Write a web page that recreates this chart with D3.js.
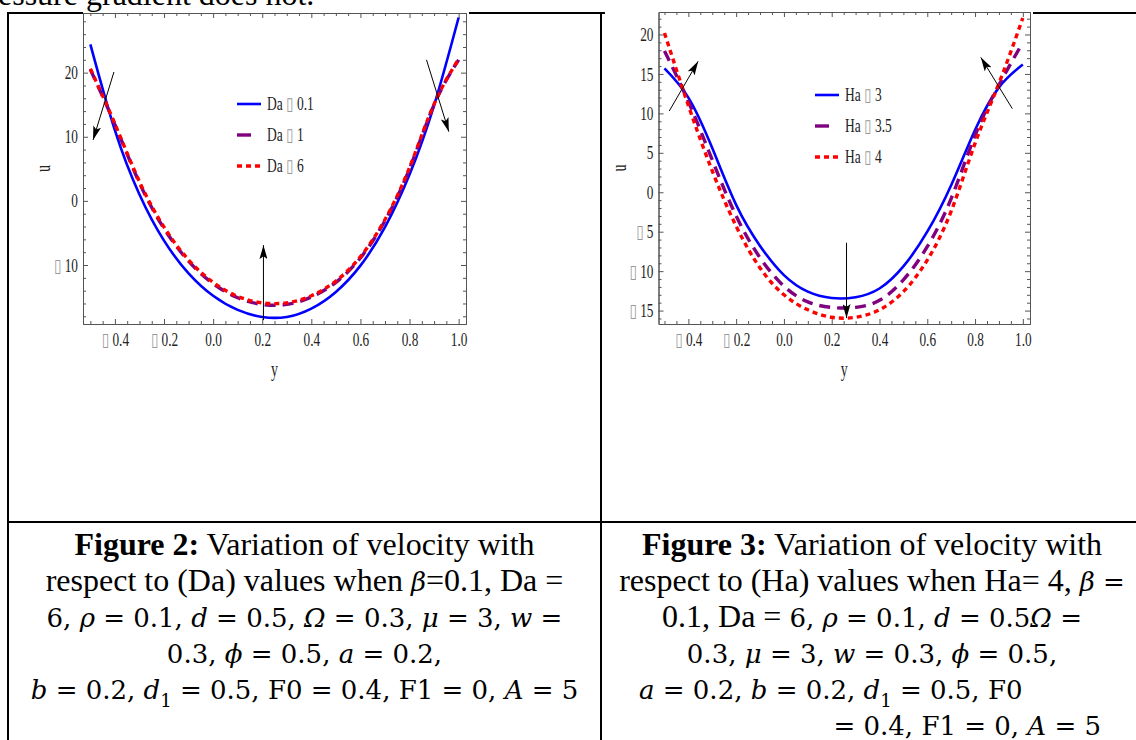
<!DOCTYPE html>
<html lang="en">
<head>
<meta charset="UTF-8">
<title>Velocity profiles</title>
<script src="https://d3js.org/d3.v7.min.js"></script>
<style>
    body { margin: 0; background: #fff; }
    svg { display: block; }
    .frame .domain, .frame line { stroke: #555; stroke-width: 1; }
    .frame text { font-family: "Liberation Serif", serif; font-size: 19px; fill: #222; }
    .box { font-family: "DejaVu Sans", sans-serif; fill: #999; }
    .txt { font-family: "Liberation Serif", serif; font-size: 32px; fill: #000; }
    .b { font-weight: bold; }
    .m { font-family: "DejaVu Serif", serif; font-size: 26px; }
    .i { font-family: "DejaVu Serif", serif; font-size: 26px; font-style: italic; }
    .sub { font-family: "DejaVu Serif", serif; font-size: 18px; }
</style>
</head>
<body>
<svg id="page" width="1136" height="740"></svg>
<script>
    // ---- data ----
    const yPos = [-0.5, -0.4, -0.3, -0.2, -0.1, 0, 0.1, 0.2, 0.3, 0.4, 0.5, 0.6, 0.7, 0.8, 0.9, 1.0];

    // figure 2 (Da)
    const uDa01 = [24.4, 11.0, 1.0, -6.2, -11.3, -14.8, -17.0, -18.1, -18.1, -16.8, -14.2, -10.1, -4.1, 4.1, 14.9, 28.6];
    const uDa1  = [20.5, 11.9, 2.8, -4.3, -9.4, -12.9, -15.1, -16.15, -16.15, -15.0, -12.7, -8.9, -3.1, 5.0, 15.0, 22.0];
    const uDa6  = [20.6, 12.0, 3.0, -4.1, -9.2, -12.7, -14.9, -15.9, -15.9, -14.8, -12.5, -8.7, -2.9, 5.2, 15.1, 22.1];

    // figure 3 (Ha)
    const uHa3  = [15.7, 12.0, 5.6, -1.6, -6.8, -10.5, -12.6, -13.4, -13.3, -12.2, -9.4, -5.0, 0.9, 7.9, 13.3, 16.2];
    const uHa35 = [17.9, 11.5, 4.1, -3.0, -8.3, -11.9, -13.9, -14.6, -14.6, -13.7, -11.1, -6.9, -0.8, 7.2, 13.6, 19.0];
    const uHa4  = [20.2, 11.0, 2.7, -4.3, -9.6, -13.0, -14.9, -15.85, -15.85, -14.9, -12.6, -8.6, -2.4, 6.2, 13.8, 22.1];

    const xTickVals = [-0.4, -0.2, 0, 0.2, 0.4, 0.6, 0.8, 1.0];
    const yTicks1 = [-10, 0, 10, 20];
    const yTicks2 = [-15, -10, -5, 0, 5, 10, 15, 20];
    const legend1 = ["Da \u25AF 0.1", "Da \u25AF 1", "Da \u25AF 6"];
    const legend2 = ["Ha \u25AF 3", "Ha \u25AF 3.5", "Ha \u25AF 4"];

    // arrows in data units: [y1, u1, y2, u2], head at the second point
    const arrows1 = [[-0.404, 20.1, -0.489, 9.5], [0.205, -18.6, 0.205, -6.9], [0.869, 22.0, 0.960, 10.8]];
    const arrows2 = [[-0.48, 10.3, -0.359, 16.6], [0.262, -6.4, 0.262, -15.95], [0.956, 10.6, 0.824, 17.1]];

    const styles = [
        { color: "#0000ff", width: 2.6, dash: null, key: 24 },
        { color: "#800080", width: 3.4, dash: "11,7", key: 14 },
        { color: "#ff0000", width: 3.4, dash: "5,4", key: 24 }
    ];

    const svg = d3.select("#page");

    svg.append("defs").append("marker")
        .attr("id", "head")
        .attr("viewBox", "0 0 14 8")
        .attr("refX", 14).attr("refY", 4)
        .attr("markerWidth", 14).attr("markerHeight", 8)
        .attr("markerUnits", "userSpaceOnUse")
        .attr("orient", "auto")
        .append("path")
        .attr("d", "M0,0 L14,4 L0,8 L3,4 Z")
        .attr("fill", "#000");

    // top line of the page, cut by the edge
    svg.append("text").attr("class", "txt")
        .attr("x", -2).attr("y", 5)
        .text("essure gradient does not.");

    const fmtX = v => (v < 0 ? "\u25AF " : "") + d3.format(".1f")(Math.abs(v));
    const fmtY = v => (v < 0 ? "\u25AF " : "") + Math.abs(v);
    const sx = 0.7; // squeezed tick font

    // put the missing-glyph box of a label into its own grey tspan
    function splitBox(sel) {
        sel.each(function () {
            const t = d3.select(this);
            const s = t.text();
            if (s.charAt(0) !== "\u25AF") return;
            t.text(null);
            t.append("tspan").attr("class", "box").text("\u25AF");
            t.append("tspan").text(s.slice(1));
        });
    }

    function drawChart(cfg) {
        const x = d3.scaleLinear().domain(cfg.xDom).range([cfg.left, cfg.right]);
        const y = d3.scaleLinear().domain(cfg.yDom).range([cfg.bottom, cfg.top]);
        const g = svg.append("g");

        const fr = g.append("g").attr("class", "frame");
        const xMinor = d3.range(-0.5, 1.0001, 0.05).filter(v => Math.abs(v * 5 - Math.round(v * 5)) > 1e-6);
        const yMinor = d3.range(cfg.minorFrom, cfg.minorTo + 0.001, cfg.minorStep).filter(v => v % cfg.majorStep !== 0);

        fr.append("g").attr("transform", `translate(0,${cfg.bottom})`)
            .call(d3.axisBottom(x).tickValues(xTickVals).tickSizeInner(-5).tickSizeOuter(0).tickPadding(9).tickFormat(fmtX));
        fr.append("g").attr("transform", `translate(0,${cfg.bottom})`)
            .call(d3.axisBottom(x).tickValues(xMinor).tickSizeInner(-3).tickSizeOuter(0).tickFormat(""));
        fr.append("g").attr("transform", `translate(0,${cfg.top})`)
            .call(d3.axisTop(x).tickValues(xTickVals).tickSizeInner(-5).tickSizeOuter(0).tickFormat(""));
        fr.append("g").attr("transform", `translate(0,${cfg.top})`)
            .call(d3.axisTop(x).tickValues(xMinor).tickSizeInner(-3).tickSizeOuter(0).tickFormat(""));
        fr.append("g").attr("class", "yax").attr("transform", `translate(${cfg.left},0)`)
            .call(d3.axisLeft(y).tickValues(cfg.yTicks).tickSizeInner(-5).tickSizeOuter(0).tickFormat(fmtY));
        fr.append("g").attr("transform", `translate(${cfg.left},0)`)
            .call(d3.axisLeft(y).tickValues(yMinor).tickSizeInner(-3).tickSizeOuter(0).tickFormat(""));
        fr.append("g").attr("transform", `translate(${cfg.right},0)`)
            .call(d3.axisRight(y).tickValues(cfg.yTicks).tickSizeInner(-5).tickSizeOuter(0).tickFormat(""));
        fr.append("g").attr("transform", `translate(${cfg.right},0)`)
            .call(d3.axisRight(y).tickValues(yMinor).tickSizeInner(-3).tickSizeOuter(0).tickFormat(""));
        fr.selectAll("text").attr("transform", `scale(${sx},1)`);
        fr.select(".yax").selectAll("text").attr("x", -5 / sx);
        splitBox(fr.selectAll("text"));

        // axis names
        g.append("text")
            .attr("transform", `translate(${(cfg.left + cfg.right) / 2},${cfg.xLabelY}) scale(${sx},1)`)
            .attr("text-anchor", "middle")
            .style("font-family", "Liberation Serif").style("font-size", "20px").attr("fill", "#222")
            .text("y");
        g.append("text")
            .attr("transform", `translate(${cfg.uLabelX},${(cfg.top + cfg.bottom) / 2}) rotate(-90) scale(${sx},1)`)
            .attr("text-anchor", "middle").attr("dy", "0.32em")
            .style("font-family", "Liberation Serif").style("font-size", "20px").attr("fill", "#222")
            .text("u");

        // curves
        const line = d3.line()
            .x((d, i) => x(yPos[i]))
            .y(d => y(d))
            .curve(d3.curveNatural);
        cfg.series.forEach((s, k) => {
            g.append("path")
                .attr("d", line(s))
                .attr("fill", "none")
                .attr("stroke", styles[k].color)
                .attr("stroke-width", styles[k].width)
                .attr("stroke-dasharray", styles[k].dash);
        });

        // legend
        const lg = g.append("g").attr("transform", `translate(${cfg.legX},${cfg.legY})`);
        cfg.legend.forEach((name, k) => {
            const row = lg.append("g").attr("transform", `translate(0,${k * cfg.legStep})`);
            row.append("line")
                .attr("x1", 0).attr("x2", styles[k].key)
                .attr("stroke", styles[k].color)
                .attr("stroke-width", styles[k].width)
                .attr("stroke-dasharray", k === 2 ? "5,4" : null);
            const t = row.append("text")
                .attr("transform", `translate(30,0) scale(0.75,1)`)
                .attr("dy", "0.35em")
                .style("font-family", "Liberation Serif").style("font-size", "18px").attr("fill", "#222")
                .text(name);
            const parts = name.split("\u25AF");
            t.text(null);
            t.append("tspan").text(parts[0]);
            t.append("tspan").attr("class", "box").text("\u25AF");
            t.append("tspan").text(parts[1]);
        });

        // arrows
        cfg.arrows.forEach(a => {
            g.append("line")
                .attr("x1", x(a[0])).attr("y1", y(a[1]))
                .attr("x2", x(a[2])).attr("y2", y(a[3]))
                .attr("stroke", "#000").attr("stroke-width", 1)
                .attr("marker-end", "url(#head)");
        });
    }

    drawChart({
        left: 83, right: 466, top: 13, bottom: 324,
        xDom: [-0.53, 1.03], yDom: [-19.2, 29.3],
        yTicks: yTicks1, minorFrom: -18, minorTo: 28, minorStep: 2, majorStep: 10,
        xLabelY: 376, uLabelX: 44,
        series: [uDa01, uDa1, uDa6],
        legend: legend1, legX: 237, legY: 104, legStep: 31,
        arrows: arrows1
    });

    drawChart({
        left: 658.5, right: 1030, top: 12, bottom: 324,
        xDom: [-0.525, 1.03], yDom: [-16.7, 22.85],
        yTicks: yTicks2, minorFrom: -16, minorTo: 22, minorStep: 1, majorStep: 5,
        xLabelY: 376, uLabelX: 620,
        series: [uHa3, uHa35, uHa4],
        legend: legend2, legX: 815, legY: 95, legStep: 31,
        arrows: arrows2
    });

    // ---- table rules ----
    const rules = svg.append("g").attr("stroke", "#000").attr("stroke-width", 2);
    [[7, 83], [469, 605], [1033, 1136]].forEach(s =>
        rules.append("line").attr("x1", s[0]).attr("x2", s[1]).attr("y1", 13).attr("y2", 13));
    rules.append("line").attr("x1", 8).attr("x2", 8).attr("y1", 12).attr("y2", 740);
    rules.append("line").attr("x1", 601).attr("x2", 601).attr("y1", 12).attr("y2", 740);
    rules.append("line").attr("x1", 7).attr("x2", 1136).attr("y1", 522).attr("y2", 522);

    // ---- captions ----
    const capLeft = [
        [["Figure 2:", "b"], [" Variation of velocity with", ""]],
        [["respect to (Da) values when ", ""], ["\u03B2", "i"], ["=0.1, Da =", ""]],
        [["6, ", "m"], ["\u03C1", "i"], [" = 0.1, ", "m"], ["d", "i"], [" = 0.5, ", "m"], ["\u03A9", "i"], [" = 0.3, ", "m"], ["\u03BC", "i"], [" = 3, ", "m"], ["w", "i"], [" =", "m"]],
        [["0.3, ", "m"], ["\u03D5", "i"], [" = 0.5, ", "m"], ["a", "i"], [" = 0.2,", "m"]],
        [["b", "i"], [" = 0.2, ", "m"], ["d", "i"], ["1", "sub"], [" = 0.5, F0 = 0.4, F1 = 0, ", "m"], ["A", "i"], [" = 5", "m"]]
    ];
    const capRight = [
        [["Figure 3:", "b"], [" Variation of velocity with", ""]],
        [["respect to (Ha) values when Ha= 4, ", ""], ["\u03B2", "i"], [" =", "m"]],
        [["0.1, Da = ", ""], ["6, ", "m"], ["\u03C1", "i"], [" = 0.1, ", "m"], ["d", "i"], [" = 0.5", "m"], ["\u03A9", "i"], [" =", "m"]],
        [["0.3, ", "m"], ["\u03BC", "i"], [" = 3, ", "m"], ["w", "i"], [" = 0.3, ", "m"], ["\u03D5", "i"], [" = 0.5,", "m"]],
        [["a", "i"], [" = 0.2, ", "m"], ["b", "i"], [" = 0.2, ", "m"], ["d", "i"], ["1", "sub"], [" = 0.5, F0", "m"]],
        [["= 0.4, F1 = 0, ", "m"], ["A", "i"], [" = 5", "m"]]
    ];

    function writeLine(parts, x, y, anchor) {
        const t = svg.append("text").attr("class", "txt")
            .attr("x", x).attr("y", y).attr("text-anchor", anchor)
            .attr("xml:space", "preserve");
        let down = 0;
        parts.forEach(p => {
            const ts = t.append("tspan").text(p[0]);
            if (p[1]) ts.attr("class", p[1]);
            if (p[1] === "sub") { ts.attr("dy", 8); down = 8; }
            else if (down) { ts.attr("dy", -down); down = 0; }
        });
    }

    const lineGap = 36;
    const firstBase = 555;
    capLeft.forEach((parts, i) => writeLine(parts, 304.5, firstBase + i * lineGap, "middle"));
    capRight.forEach((parts, i) => {
        if (i < 4) writeLine(parts, 872, firstBase + i * lineGap, "middle");
        else if (i === 4) writeLine(parts, 639, firstBase + i * lineGap, "start");
        else writeLine(parts, 1101, firstBase + i * lineGap, "end");
    });
</script>
</body>
</html>
